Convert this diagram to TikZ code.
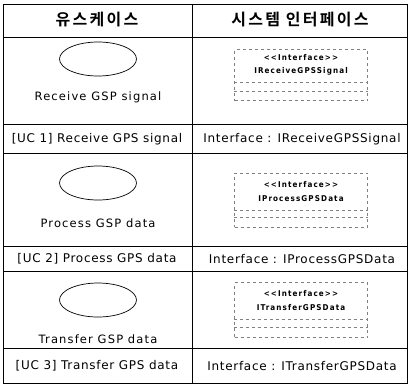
\documentclass[tikz,border=0pt]{standalone}
\usepackage{fontspec}
\setmainfont{DejaVu Sans}
\newfontfamily\krfont{Noto Sans CJK KR}[BoldFont={* Bold}, LetterSpace=14]
\newfontfamily\widefont{DejaVu Sans}[LetterSpace=10]
\newfontfamily\labelfont{DejaVu Sans}[LetterSpace=6]
\newfontfamily\iffont{DejaVu Sans Condensed}[LetterSpace=14]
\usetikzlibrary{shapes.geometric}
\tikzset{
  grid/.style={line width=0.7pt},
  head/.style={font=\krfont\bfseries\fontsize{16}{18}\selectfont},
  ucell/.style={draw, ellipse, line width=0.7pt, minimum width=77pt, minimum height=34pt},
  ucname/.style={font=\widefont\fontsize{11.5}{13}\selectfont},
  label/.style={font=\labelfont\fontsize{12}{14}\selectfont},
  ifbox/.style={draw, dashed, line width=0.4pt, gray, minimum width=133pt},
  ifline/.style={dashed, gray, line width=0.4pt},
  iftext/.style={font=\iffont\bfseries\fontsize{8}{9}\selectfont, inner sep=0pt}
}
\begin{document}
\begin{tikzpicture}[x=1pt,y=-1pt]
\useasboundingbox (0,0) rectangle (409,384);
% table
\draw[grid] (3,4) rectangle (407,383);
\draw[grid] (192,4) -- (192,383);
\draw[grid] (3,37) -- (407,37);
\draw[grid] (3,124) -- (407,124);
\draw[grid] (3,153) -- (407,153);
\draw[grid] (3,246) -- (407,246);
\draw[grid] (3,271) -- (407,271);
\draw[grid] (3,348) -- (407,348);
% header
\node[head] (h1) at (97,20) {유스케이스};
\node[head] (h2) at (300,20) {시스템 인터페이스};
% use case 1
\node[ucell] (u1) at (98,59) {};
\node[ucname] (n1) at (98,97) {Receive GSP signal};
\node[ifbox, minimum height=51pt] (b1) at (301,75) {};
\node[iftext] (s1) at (301,58) {{<}{<}Interface{>}{>}};
\node[iftext] (i1) at (301,71) {IReceiveGPSSignal};
\draw[ifline] (b1.west |- 0,82) -- (b1.east |- 0,82);
\draw[ifline] (b1.west |- 0,91) -- (b1.east |- 0,91);
\node[label] (l1) at (97,139) {[UC 1] Receive GPS signal};
\node[label] (r1) at (302,139) {Interface : IReceiveGPSSignal};
% use case 2
\node[ucell] (u2) at (98,183) {};
\node[ucname] (n2) at (98,223) {Process GSP data};
\node[ifbox, minimum height=54pt] (b2) at (301,200) {};
\node[iftext] (s2) at (301,185) {{<}{<}Interface{>}{>}};
\node[iftext] (i2) at (301,199) {IProcessGPSData};
\draw[ifline] (b2.west |- 0,210) -- (b2.east |- 0,210);
\draw[ifline] (b2.west |- 0,217) -- (b2.east |- 0,217);
\node[label] (l2) at (97,259) {[UC 2] Process GPS data};
\node[label] (r2) at (302,259) {Interface : IProcessGPSData};
% use case 3
\node[ucell] (u3) at (98,300) {};
\node[ucname] (n3) at (98,339) {Transfer GSP data};
\node[ifbox, minimum height=55pt] (b3) at (301,310) {};
\node[iftext] (s3) at (301,294) {{<}{<}Interface{>}{>}};
\node[iftext] (i3) at (301,308) {ITransferGPSData};
\draw[ifline] (b3.west |- 0,319) -- (b3.east |- 0,319);
\draw[ifline] (b3.west |- 0,327) -- (b3.east |- 0,327);
\node[label] (l3) at (97,366) {[UC 3] Transfer GPS data};
\node[label] (r3) at (302,366) {Interface : ITransferGPSData};
\end{tikzpicture}
\end{document}
